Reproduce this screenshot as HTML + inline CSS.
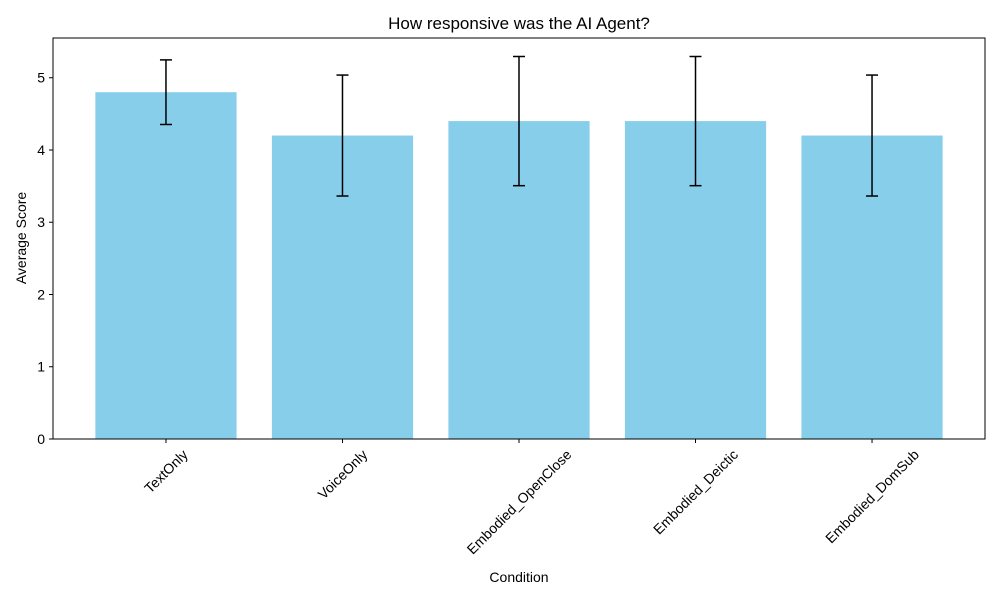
<!DOCTYPE html>
<html><head><meta charset="utf-8">
<style>
body{margin:0;background:#fff;}
svg text{font-family:"Liberation Sans","DejaVu Sans",sans-serif;fill:#000;}
</style></head>
<body>
<svg id="chart" width="1000" height="600" xmlns="http://www.w3.org/2000/svg">
<rect width="1000" height="600" fill="#fff"/>
<text x="519" y="29" font-size="17" text-anchor="middle">How responsive was the AI Agent?</text>
<g id="plot"></g>
<text x="519" y="582" font-size="14" text-anchor="middle">Condition</text>
<text transform="translate(26,238) rotate(-90)" font-size="14" text-anchor="middle">Average Score</text>
</svg>
<script>
const categories = ["TextOnly","VoiceOnly","Embodied_OpenClose","Embodied_Deictic","Embodied_DomSub"];
const values = [4.8, 4.2, 4.4, 4.4, 4.2];
const errors = [0.447, 0.837, 0.894, 0.894, 0.837];
const yTicks = [0,1,2,3,4,5];

const L=53,R=985,T=38,B=439;
const xMin=-0.64,xMax=4.64,yMax=5.55;
const xs=v=>L+(v-xMin)/(xMax-xMin)*(R-L);
const ys=v=>B-v/yMax*(B-T);
const NS="http://www.w3.org/2000/svg";
const g=document.getElementById('plot');
function mk(tag,attrs){const e=document.createElementNS(NS,tag);for(const k in attrs)e.setAttribute(k,attrs[k]);g.appendChild(e);return e;}

categories.forEach((c,i)=>{
  const x0=xs(i-0.4),x1=xs(i+0.4);
  const b=mk('rect',{x:x0,y:ys(values[i]),width:x1-x0,height:B-ys(values[i]),fill:'#87ceeb'});
  
  
});
categories.forEach((c,i)=>{
  const cx=xs(i),hi=ys(values[i]+errors[i]),lo=ys(values[i]-errors[i]);
  const eg=document.createElementNS(NS,'g');
  
  
  g.appendChild(eg);
  [[cx,hi,cx,lo],[cx-6,hi,cx+6,hi],[cx-6,lo,cx+6,lo]].forEach(p=>{
    const l=document.createElementNS(NS,'line');
    l.setAttribute('x1',p[0]);l.setAttribute('y1',p[1]);l.setAttribute('x2',p[2]);l.setAttribute('y2',p[3]);
    l.setAttribute('stroke','#000');l.setAttribute('stroke-width','1.5');
    eg.appendChild(l);
  });
});
const fr=mk('rect',{x:L,y:T,width:R-L,height:B-T,fill:'none',stroke:'#000','stroke-width':1});


yTicks.forEach(t=>{
  const y=ys(t);
  mk('line',{x1:L-4,y1:y,x2:L,y2:y,stroke:'#000'});
  const tx=mk('text',{x:L-8,y:y+5,'font-size':14,'text-anchor':'end'});
  tx.textContent=t;
  
  
});
categories.forEach((c,i)=>{
  const x=xs(i);
  mk('line',{x1:x,y1:B,x2:x,y2:B+4,stroke:'#000'});
  const tx=mk('text',{'font-size':14,'text-anchor':'middle','dominant-baseline':'central'});
  tx.textContent=c;
  
  
  const w=tx.getComputedTextLength(), h=14;
  const half=(w+h)*0.7071/2;
  tx.setAttribute('transform',`translate(${x},${B+8+half}) rotate(-45)`);
});
</script>
</body></html>
